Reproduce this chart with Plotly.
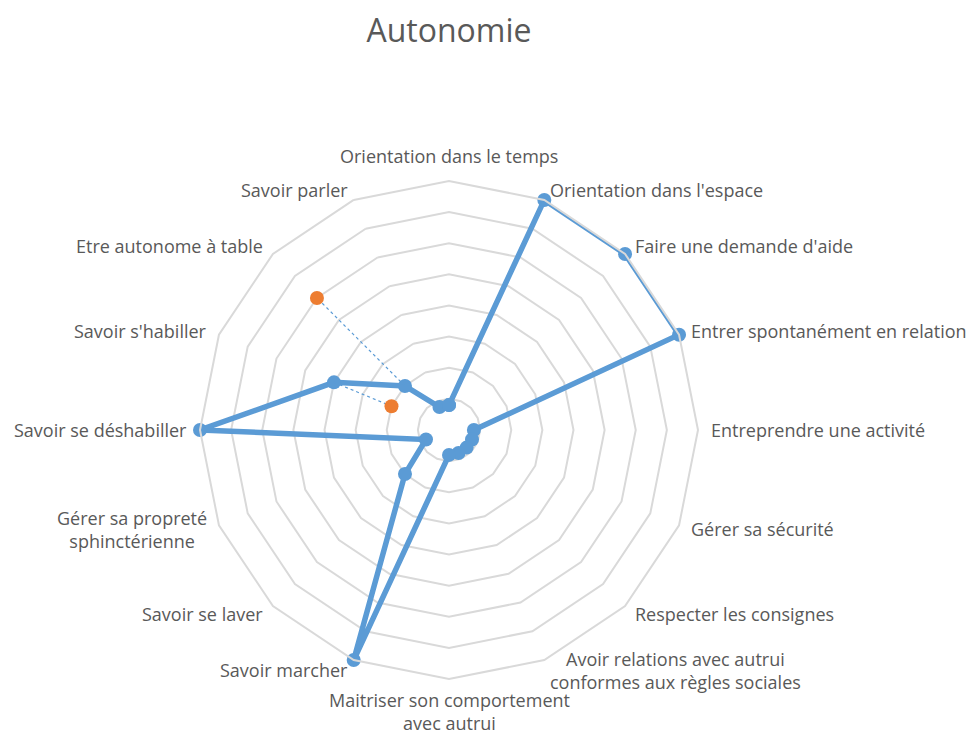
import math
import plotly.graph_objects as go

# Catégories (sens horaire, depuis le haut)
categories = [
    "Orientation dans le temps",
    "Orientation dans l'espace",
    "Faire une demande d'aide",
    "Entrer spontanément en relation",
    "Entreprendre une activité",
    "Gérer sa sécurité",
    "Respecter les consignes",
    "Avoir relations avec autrui<br>conformes aux règles sociales",
    "Maitriser son comportement<br>avec autrui",
    "Savoir marcher",
    "Savoir se laver",
    "Gérer sa propreté<br>sphinctérienne",
    "Savoir se déshabiller",
    "Savoir s'habiller",
    "Etre autonome à table",
    "Savoir parler",
]

serie1 = [0.8, 8, 8, 8, 0.8, 0.8, 0.8, 0.8, 0.8, 8, 2, 0.8, 8, 4, 2, 0.8]
serie2 = [None, None, None, None, None, None, None, None, None, None, None, None, None, 2, 6, None]

BLUE = "#5B9BD5"
ORANGE = "#ED7D31"
GRID = "#D9D9D9"
TEXT = "#595959"

# la page a une marge de 8 px autour de la figure
OFF = 8
W, H = 978, 738
CX, CY, R = 449, 430, 249   # centre et rayon du radar (px dans la page)
PAD = 11                    # écart entre le polygone extérieur et les étiquettes


def px(x, y):
    return (x - OFF) / W, 1 - (y - OFF) / H


fig = go.Figure()

fig.add_trace(go.Scatterpolar(
    r=serie1 + serie1[:1],
    theta=categories + categories[:1],
    mode="lines+markers",
    line=dict(color=BLUE, width=5.5),
    marker=dict(color=BLUE, size=14),
    name="Série 1",
    showlegend=False,
))

# liens pointillés entre les deux séries
for cat, a, b in zip(categories, serie1, serie2):
    if b is None:
        continue
    fig.add_trace(go.Scatterpolar(
        r=[a, b], theta=[cat, cat], mode="lines",
        line=dict(color=BLUE, width=1.2, dash="dot"),
        showlegend=False, hoverinfo="skip",
    ))

fig.add_trace(go.Scatterpolar(
    r=serie2, theta=categories,
    mode="markers",
    marker=dict(color=ORANGE, size=14),
    name="Série 2",
    showlegend=False,
))

# étiquettes des catégories, placées à la manière d'Excel
n = len(categories)
for i, cat in enumerate(categories):
    a = 2 * math.pi * i / n
    s, c = math.sin(a), math.cos(a)
    pad = PAD - 4 if c < -0.99 else PAD
    x, y = px(CX + (R + pad) * s, CY - (R + pad) * c)
    xa = "left" if s > 0.1 else ("right" if s < -0.1 else "center")
    ya = "bottom" if c > 0.99 else ("top" if c < -0.99 else "middle")
    fig.add_annotation(
        x=x, y=y, xref="paper", yref="paper", text=cat, showarrow=False,
        xanchor=xa, yanchor=ya, align="center",
        font=dict(size=18, color=TEXT),
    )

tx, ty = px(CX, 31)
fig.update_layout(
    width=W, height=H,
    paper_bgcolor="white",
    margin=dict(l=0, r=0, t=0, b=0),
    font=dict(family="Open Sans", color=TEXT),
    title=dict(text="Autonomie", x=tx, y=ty, xanchor="center", yanchor="middle",
               font=dict(size=32, color=TEXT)),
    polar=dict(
        domain=dict(x=[px(CX - R, 0)[0], px(CX + R, 0)[0]],
                    y=[px(0, CY + R)[1], px(0, CY - R)[1]]),
        bgcolor="white",
        gridshape="linear",
        radialaxis=dict(range=[0, 8], dtick=1, showticklabels=False, ticks="",
                        showline=False, gridcolor=GRID, gridwidth=2),
        angularaxis=dict(direction="clockwise", rotation=90, showgrid=False,
                         categoryorder="array", categoryarray=categories,
                         showticklabels=False,
                         showline=True, linecolor=GRID, linewidth=2, ticks=""),
    ),
)

fig.write_html("out.html")
